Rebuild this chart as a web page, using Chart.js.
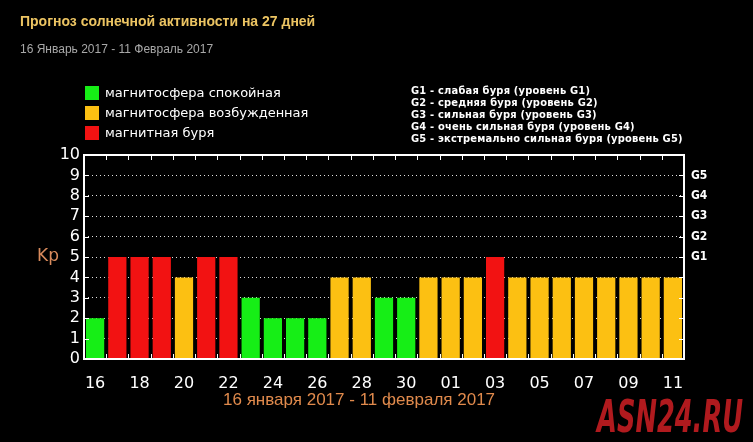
<!DOCTYPE html>
<html>
<head>
<meta charset="utf-8">
<script src="https://cdn.jsdelivr.net/npm/chart.js@4/dist/chart.umd.min.js"></script>
<style>
  html, body { margin: 0; padding: 0; background: #000; }
  #wrap { position: relative; width: 753px; height: 442px; overflow: hidden; background: #000; }
  #kpChart { position: absolute; left: 0; top: 0; }
  .txt { position: absolute; white-space: nowrap; line-height: 1; }
  #title { left: 20px; top: 13px; font: bold 14px "Liberation Sans", Arial, sans-serif; color: #ecc462; }
  #subtitle { left: 20px; top: 42px; font: 12px "Liberation Sans", Arial, sans-serif; color: #a8a8a8; }
  #legend { left: 85px; top: 86px; font: 13px "DejaVu Sans", sans-serif; color: #fff; }
  #legend div { height: 20px; display: flex; align-items: flex-start; }
  #legend span.box { display: inline-block; width: 14px; height: 14px; margin-right: 6px; }
  #legend span.lbl { line-height: 14px; }
  #gLegend { left: 411px; top: 85px; font: bold 11px "DejaVu Sans Condensed", "DejaVu Sans", sans-serif; letter-spacing: 0.2px; color: #fff; }
  #gLegend div { height: 12px; line-height: 12px; }
  #range { left: 223px; top: 390px; font: 17px "Liberation Sans", Arial, sans-serif; color: #e08a4c; }
  #mark { left: 597px; top: 391px; font: italic bold 44px "Liberation Sans Narrow", "DejaVu Sans Condensed", sans-serif; color: #b01a1e; transform-origin: left top; }
</style>
</head>
<body>
<div id="wrap">
  <canvas id="kpChart" width="753" height="442"></canvas>
  <div class="txt" id="title">Прогноз солнечной активности на 27 дней</div>
  <div class="txt" id="subtitle">16 Январь 2017 - 11 Февраль 2017</div>
  <div class="txt" id="legend"></div>
  <div class="txt" id="gLegend"></div>
  <div class="txt" id="range">16 января 2017 - 11 февраля 2017</div>
  <div class="txt" id="mark">ASN24.RU</div>
</div>
<script>
// Forecast data, 16 Jan - 11 Feb 2017
const dayLabels = ['16','17','18','19','20','21','22','23','24','25','26','27','28','29','30','31',
                   '01','02','03','04','05','06','07','08','09','10','11'];
const kpValues = [2,5,5,5,4,5,5,3,2,2,2,4,4,3,3,4,4,4,5,4,4,4,4,4,4,4,4];

// Right axis storm levels (Kp 5..9)
const gLevelKp = [5, 6, 7, 8, 9];
const gLevelNames = ['G1', 'G2', 'G3', 'G4', 'G5'];
const gLevelText = [
    'G1 - слабая буря (уровень G1)',
    'G2 - средняя буря (уровень G2)',
    'G3 - сильная буря (уровень G3)',
    'G4 - очень сильная буря (уровень G4)',
    'G5 - экстремально сильная буря (уровень G5)'
];

// Status legend
const statusNames = ['магнитосфера спокойная', 'магнитосфера возбужденная', 'магнитная буря'];
const statusColors = ['#16ee16', '#fcc012', '#f21212'];

function statusOf(kp) {
    if (kp >= 5) return 2;
    if (kp >= 4) return 1;
    return 0;
}

// HTML legends
document.getElementById('legend').innerHTML = statusNames.map((name, i) =>
    '<div><span class="box" style="background:' + statusColors[i] + '"></span><span class="lbl">' + name + '</span></div>'
).join('');
document.getElementById('gLegend').innerHTML = gLevelText.map(t => '<div>' + t + '</div>').join('');

// Squeeze watermark to its width
const mark = document.getElementById('mark');
mark.style.transform = 'scaleX(' + (146 / mark.offsetWidth) + ')';

// Frame, inward ticks and Kp label
const frameTicks = {
    id: 'frameTicks',
    afterDatasetsDraw: function(chart) {
        const ctx = chart.ctx;
        const a = chart.chartArea;
        const x = chart.scales.x;
        const y = chart.scales.y;
        ctx.save();
        ctx.strokeStyle = '#fff';
        ctx.lineWidth = 1;
        ctx.beginPath();
        for (let i = 1; i < dayLabels.length; i++) {
            const px = Math.round((x.getPixelForValue(i - 1) + x.getPixelForValue(i)) / 2) + 0.5;
            ctx.moveTo(px, a.top); ctx.lineTo(px, a.top + 5);
            ctx.moveTo(px, a.bottom); ctx.lineTo(px, a.bottom - 5);
        }
        for (let v = 1; v < 10; v++) {
            const py = Math.round(y.getPixelForValue(v)) + 0.5;
            ctx.moveTo(a.left, py); ctx.lineTo(a.left + 5, py);
            ctx.moveTo(a.right, py); ctx.lineTo(a.right - 5, py);
        }
        ctx.stroke();
        ctx.lineWidth = 2;
        ctx.strokeRect(a.left, a.top, a.right - a.left, a.bottom - a.top);

        ctx.fillStyle = '#d88a5c';
        ctx.font = '17px "DejaVu Sans"';
        ctx.textAlign = 'right';
        ctx.textBaseline = 'middle';
        ctx.fillText('Kp', 59, y.getPixelForValue(5));
        ctx.restore();
    }
};

const chart = new Chart(document.getElementById('kpChart'), {
    type: 'bar',
    data: {
        labels: dayLabels,
        datasets: [{
            label: 'Kp',
            data: kpValues,
            backgroundColor: kpValues.map(v => statusColors[statusOf(v)]),
            borderWidth: 0,
            barPercentage: 0.82,
            categoryPercentage: 1
        }]
    },
    options: {
        responsive: false,
        animation: false,
        devicePixelRatio: 1,
        layout: { padding: { top: 155, bottom: 53, left: 0, right: 0 } },
        plugins: {
            legend: { display: false },
            tooltip: { enabled: false }
        },
        scales: {
            x: {
                grid: { display: false },
                border: { display: false },
                ticks: {
                    autoSkip: false,
                    maxRotation: 0,
                    padding: 7,
                    color: '#fff',
                    font: { family: 'DejaVu Sans', size: 16 },
                    callback: function(value, index) {
                        return index % 2 === 0 ? dayLabels[index] : '';
                    }
                },
                afterFit: function(scale) { scale.height = 30; }
            },
            y: {
                min: 0,
                max: 10,
                grid: {
                    color: ctx => (ctx.tick.value > 0 && ctx.tick.value < 10) ? '#e0e0e0' : 'transparent',
                    lineWidth: 1,
                    drawTicks: false
                },
                border: { display: false, dash: [1, 3] },
                ticks: {
                    stepSize: 1,
                    autoSkip: false,
                    padding: 4,
                    color: '#fff',
                    font: { family: 'DejaVu Sans', size: 16, lineHeight: 1 }
                },
                afterFit: function(scale) { scale.width = 84; }
            },
            y2: {
                position: 'right',
                min: 0,
                max: 10,
                grid: { display: false, drawTicks: false, tickLength: 0 },
                border: { display: false },
                ticks: {
                    stepSize: 1,
                    autoSkip: false,
                    padding: 7,
                    color: '#fff',
                    font: { family: 'DejaVu Sans Condensed', size: 12, weight: 'bold', lineHeight: 1 },
                    callback: function(value) {
                        const i = gLevelKp.indexOf(value);
                        return i >= 0 ? gLevelNames[i] : '';
                    }
                },
                afterFit: function(scale) { scale.width = 69; }
            }
        }
    },
    plugins: [frameTicks]
});
</script>
</body>
</html>
